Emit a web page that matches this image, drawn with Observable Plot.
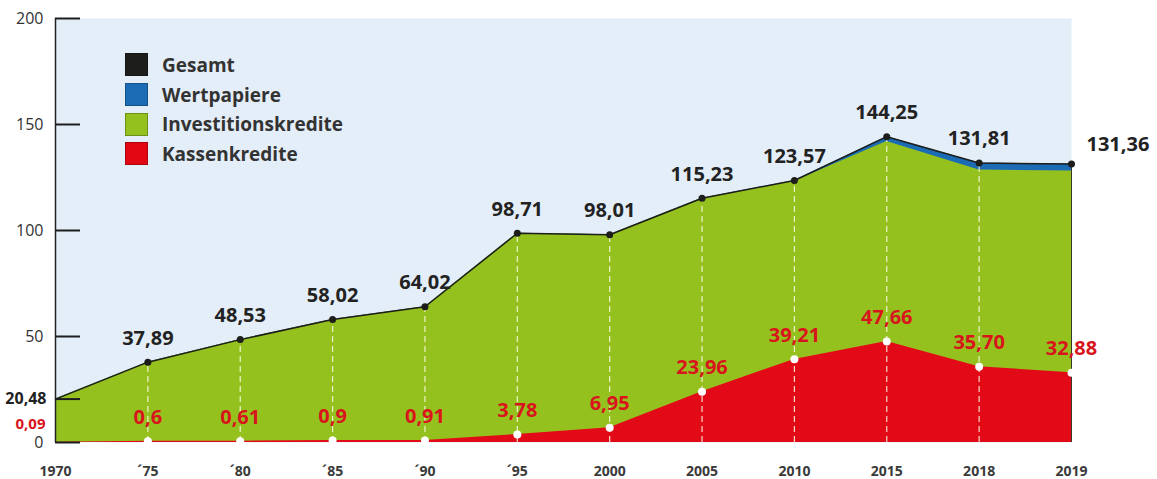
<!DOCTYPE html>
<html>
<head>
<meta charset="utf-8">
<script src="https://cdn.jsdelivr.net/npm/d3@7"></script>
<script src="https://cdn.jsdelivr.net/npm/@observablehq/plot@0.6"></script>
<style>
  body { margin: 0; background: #ffffff; }
  #wrap { position: relative; width: 1157px; height: 479px; font-family: "Open Sans", sans-serif; }
  #legend { position: absolute; left: 125px; top: 50px; }
  .row { display: flex; align-items: center; height: 29.7px; }
  .sw { width: 23px; height: 23px; box-sizing: border-box; border: 1px solid rgba(0,0,0,0.25); margin-right: 14px; }
  .lab { font-size: 19px; font-weight: 700; color: #333333; line-height: 22px; }
</style>
</head>
<body>
<div id="wrap"></div>
<script>
const years = ["1970", "´75", "´80", "´85", "´90", "´95", "2000", "2005", "2010", "2015", "2018", "2019"];
const gesamt = [20.48, 37.89, 48.53, 58.02, 64.02, 98.71, 98.01, 115.23, 123.57, 144.25, 131.81, 131.36];
const gesamtLabels = ["20,48", "37,89", "48,53", "58,02", "64,02", "98,71", "98,01", "115,23", "123,57", "144,25", "131,81", "131,36"];
const kassenkredite = [0.09, 0.6, 0.61, 0.9, 0.91, 3.78, 6.95, 23.96, 39.21, 47.66, 35.70, 32.88];
const kassenLabels = ["0,09", "0,6", "0,61", "0,9", "0,91", "3,78", "6,95", "23,96", "39,21", "47,66", "35,70", "32,88"];
const wertpapiere = [0, 0, 0, 0, 0, 0, 0, 0, 0.3, 2.3, 3.3, 3.3];
const yTicks = [0, 50, 100, 150, 200];
const seriesNames = ["Gesamt", "Wertpapiere", "Investitionskredite", "Kassenkredite"];
const seriesColors = ["#1d1d1b", "#1b6cb4", "#95c11f", "#e30613"];

const rows = years.map((year, i) => ({
  i, year,
  gesamt: gesamt[i],
  gLabel: gesamtLabels[i],
  kassen: kassenkredite[i],
  kLabel: kassenLabels[i],
  invTop: gesamt[i] - wertpapiere[i]
}));
const inner = rows.filter(d => d.i > 0);
const middle = rows.filter(d => d.i > 0 && d.i < rows.length - 1);
const last = rows.filter(d => d.i === rows.length - 1);
const first = rows.filter(d => d.i === 0);
const tickMarks = [...yTicks, gesamt[0]];

const chart = Plot.plot({
  width: 1157,
  height: 479,
  marginLeft: 55,
  marginRight: 86,
  marginTop: 18,
  marginBottom: 37,
  x: { type: "linear", domain: [0, years.length - 1], axis: null },
  y: { domain: [0, 200], axis: null },
  style: { fontFamily: "Open Sans, sans-serif", background: "transparent" },
  marks: [
    Plot.frame({ fill: "#e4eef8", stroke: "none" }),
    Plot.areaY(rows, { x: "i", y1: 0, y2: "gesamt", fill: seriesColors[1] }),
    Plot.areaY(rows, { x: "i", y1: 0, y2: "invTop", fill: seriesColors[2] }),
    Plot.areaY(rows, { x: "i", y1: 0, y2: "kassen", fill: "#e20a17" }),
    Plot.ruleX(middle, { x: "i", y1: 0, y2: "gesamt", stroke: "#fbfbe6", strokeOpacity: 0.85, strokeWidth: 1.2, strokeDasharray: "6,4" }),
    Plot.ruleX(last, { x: "i", y1: 0, y2: "gesamt", stroke: "#3a3a2a", strokeWidth: 1 }),
    Plot.lineY(rows, { x: "i", y: "gesamt", stroke: seriesColors[0], strokeWidth: 1.5 }),
    Plot.dot(inner, { x: "i", y: "gesamt", r: 3.5, fill: seriesColors[0], stroke: "none" }),
    Plot.dot(inner, { x: "i", y: "kassen", r: 4, fill: "#ffffff", stroke: "none" }),
    Plot.text(middle, { x: "i", y: "gesamt", text: "gLabel", dy: -24, fontSize: 20, fontWeight: 700, fill: "#222222" }),
    Plot.text(last, { x: "i", y: "gesamt", text: "gLabel", dx: 15, dy: -19, textAnchor: "start", fontSize: 20, fontWeight: 700, fill: "#222222" }),
    Plot.text(inner, { x: "i", y: "kassen", text: "kLabel", dy: -24, fontSize: 20, fontWeight: 700, fill: "#d8141c" }),
    // left side labels for 1970
    Plot.text(first, { x: "i", y: "gesamt", text: "gLabel", dx: -9, textAnchor: "end", fontSize: 16, fontWeight: 700, fill: "#222222" }),
    Plot.text(first, { x: "i", y: "kassen", text: "kLabel", dx: -10, dy: -18, textAnchor: "end", fontSize: 15, fontWeight: 700, fill: "#d8141c" }),
    Plot.axisY(yTicks, { tickSize: 0, tickPadding: 12, fontSize: 16, fill: "#333333", label: null }),
    Plot.axisX(d3.range(years.length), { tickFormat: i => years[i], tickSize: 0, tickPadding: 24, fontSize: 14, fontWeight: 700, fill: "#3a3a3a", label: null }),
    // y axis line and inward ticks (drawn last so nothing covers them)
    Plot.ruleX([0], { stroke: "#222222", strokeWidth: 1.5 }),
    Plot.ruleY(tickMarks, { y: d => d, x1: d => 0, x2: d => 0, insetRight: -25, stroke: "#1e1e1e", strokeWidth: 2 })
  ]
});

const wrap = document.getElementById("wrap");
wrap.appendChild(chart);
const legend = document.createElement("div");
legend.id = "legend";
seriesNames.forEach((name, k) => {
  const row = document.createElement("div");
  row.className = "row";
  const sw = document.createElement("div");
  sw.className = "sw";
  sw.style.background = seriesColors[k];
  const lab = document.createElement("span");
  lab.className = "lab";
  lab.textContent = name;
  row.appendChild(sw);
  row.appendChild(lab);
  legend.appendChild(row);
});
wrap.appendChild(legend);
</script>
</body>
</html>
